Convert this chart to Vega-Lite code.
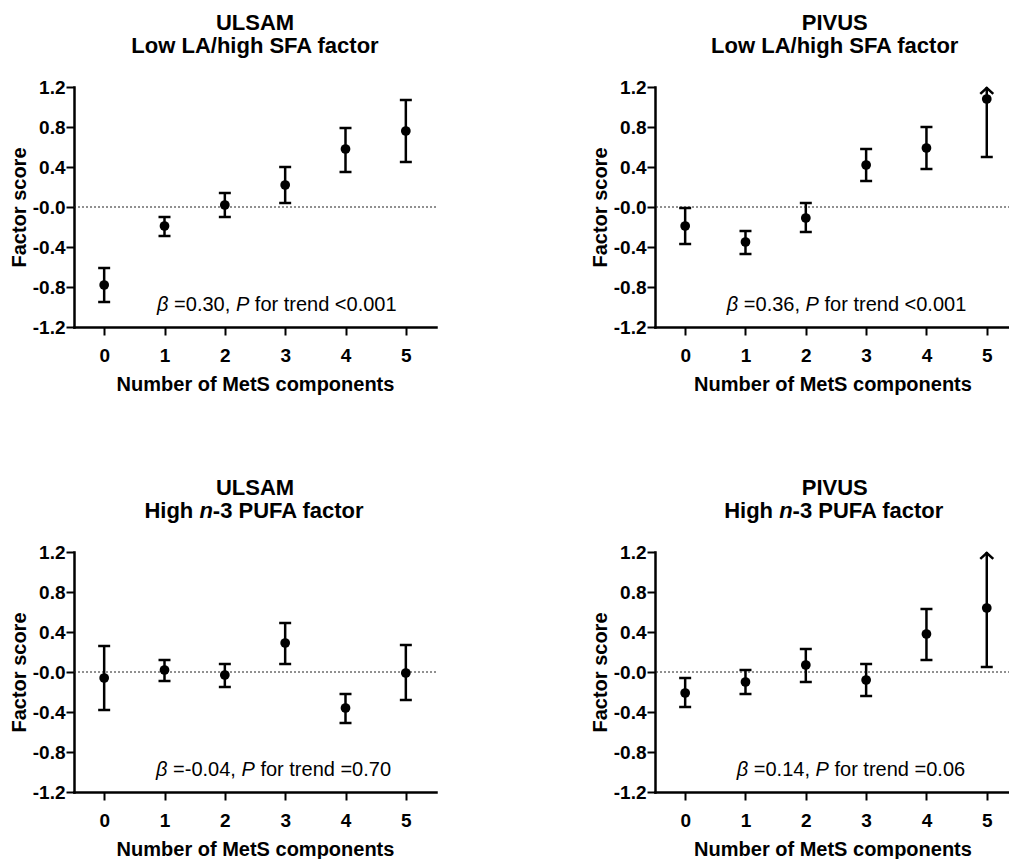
{
  "$schema": "https://vega.github.io/schema/vega-lite/v6.json",
  "background": "white",
  "padding": {"left": 9, "top": 12, "right": 0, "bottom": 0},
  "autosize": {"type": "pad"},
  "bounds": "flush",
  "columns": 2,
  "spacing": {"row": 225, "column": 219},
  "datasets": {
    "ulsam_la": [
      {"n": 0, "mean": -0.78, "lo": -0.95, "hi": -0.61},
      {"n": 1, "mean": -0.19, "lo": -0.29, "hi": -0.10},
      {"n": 2, "mean": 0.02, "lo": -0.10, "hi": 0.14},
      {"n": 3, "mean": 0.22, "lo": 0.04, "hi": 0.40},
      {"n": 4, "mean": 0.58, "lo": 0.35, "hi": 0.79},
      {"n": 5, "mean": 0.76, "lo": 0.45, "hi": 1.07}
    ],
    "pivus_la": [
      {"n": 0, "mean": -0.19, "lo": -0.37, "hi": -0.01},
      {"n": 1, "mean": -0.35, "lo": -0.47, "hi": -0.24},
      {"n": 2, "mean": -0.11, "lo": -0.25, "hi": 0.04},
      {"n": 3, "mean": 0.42, "lo": 0.26, "hi": 0.58},
      {"n": 4, "mean": 0.59, "lo": 0.38, "hi": 0.80},
      {"n": 5, "mean": 1.08, "lo": 0.50, "hi": 1.66}
    ],
    "ulsam_n3": [
      {"n": 0, "mean": -0.06, "lo": -0.38, "hi": 0.26},
      {"n": 1, "mean": 0.02, "lo": -0.09, "hi": 0.12},
      {"n": 2, "mean": -0.03, "lo": -0.15, "hi": 0.08},
      {"n": 3, "mean": 0.29, "lo": 0.08, "hi": 0.49},
      {"n": 4, "mean": -0.36, "lo": -0.51, "hi": -0.22},
      {"n": 5, "mean": -0.01, "lo": -0.28, "hi": 0.27}
    ],
    "pivus_n3": [
      {"n": 0, "mean": -0.21, "lo": -0.35, "hi": -0.06},
      {"n": 1, "mean": -0.10, "lo": -0.22, "hi": 0.02},
      {"n": 2, "mean": 0.07, "lo": -0.10, "hi": 0.23},
      {"n": 3, "mean": -0.08, "lo": -0.24, "hi": 0.08},
      {"n": 4, "mean": 0.38, "lo": 0.12, "hi": 0.63},
      {"n": 5, "mean": 0.64, "lo": 0.05, "hi": 1.23}
    ]
  },
  "concat": [
    {
      "width": 362, "height": 240,
      "data": {"name": "ulsam_la"},
      "layer": [
        {"data": {"values": [{}]}, "mark": {"type": "rule", "color": "#222", "strokeWidth": 1, "strokeDash": [2, 2]}, "encoding": {"y": {"datum": 0, "type": "quantitative"}}},
        {"mark": {"type": "rule", "color": "#000", "strokeWidth": 2.5, "clip": true}, "encoding": {"x": {"field": "n", "type": "quantitative", "title": "Number of MetS components"}, "y": {"field": "lo", "type": "quantitative", "title": "Factor score"}, "y2": {"field": "hi"}}},
        {"mark": {"type": "tick", "orient": "horizontal", "color": "#000", "size": 12, "thickness": 2.5, "opacity": 1}, "encoding": {"x": {"field": "n", "type": "quantitative", "title": "Number of MetS components"}, "y": {"field": "lo", "type": "quantitative", "title": "Factor score"}}},
        {"transform": [{"filter": "datum.hi <= 1.2"}], "mark": {"type": "tick", "orient": "horizontal", "color": "#000", "size": 12, "thickness": 2.5, "opacity": 1}, "encoding": {"x": {"field": "n", "type": "quantitative", "title": "Number of MetS components"}, "y": {"field": "hi", "type": "quantitative", "title": "Factor score"}}},
        {"mark": {"type": "point", "filled": true, "color": "#000", "size": 95, "opacity": 1}, "encoding": {
          "x": {"field": "n", "type": "quantitative", "title": "Number of MetS components", "scale": {"domain": [-0.5, 5.5], "nice": false, "zero": false}, "axis": {"values": [0, 1, 2, 3, 4, 5], "tickCount": 12, "format": "d", "labelOverlap": false}},
          "y": {"field": "mean", "type": "quantitative", "title": "Factor score", "scale": {"domain": [-1.2, 1.2], "nice": false, "zero": false}, "axis": {"values": [-1.2, -0.8, -0.4, 0, 0.4, 0.8, 1.2], "tickCount": 12, "labelOverlap": false, "labelExpr": "datum.value > 0 ? format(datum.value, '.1f') : '-' + format(abs(datum.value), '.1f')"}}}},
        {"data": {"values": [{}]}, "mark": {"type": "text", "text": "ULSAM", "font": "Liberation Sans", "fontSize": 22, "fontWeight": "bold", "align": "center", "baseline": "alphabetic", "dy": -57, "color": "#000"}, "encoding": {"x": {"datum": 2.5}, "y": {"datum": 1.2}}},
        {"data": {"values": [{}]}, "mark": {"type": "text", "text": "Low LA/high SFA factor", "font": "Liberation Sans", "fontSize": 22, "fontWeight": "bold", "align": "center", "baseline": "alphabetic", "dy": -34, "color": "#000"}, "encoding": {"x": {"datum": 2.5}, "y": {"datum": 1.2}}},
        {"data": {"values": [{}]}, "mark": {"type": "text", "text": "β", "font": "Liberation Sans", "fontSize": 20, "fontStyle": "italic", "align": "left", "baseline": "alphabetic", "dx": 0, "color": "#000"}, "encoding": {"x": {"datum": 0.876}, "y": {"datum": -1.04}}},
        {"data": {"values": [{}]}, "mark": {"type": "text", "text": "=0.30,", "font": "Liberation Sans", "fontSize": 20, "align": "left", "baseline": "alphabetic", "dx": 17.1, "color": "#000"}, "encoding": {"x": {"datum": 0.876}, "y": {"datum": -1.04}}},
        {"data": {"values": [{}]}, "mark": {"type": "text", "text": "P", "font": "Liberation Sans", "fontSize": 20, "fontStyle": "italic", "align": "left", "baseline": "alphabetic", "dx": 78.9, "color": "#000"}, "encoding": {"x": {"datum": 0.876}, "y": {"datum": -1.04}}},
        {"data": {"values": [{}]}, "mark": {"type": "text", "text": "for trend <0.001", "font": "Liberation Sans", "fontSize": 20, "align": "left", "baseline": "alphabetic", "dx": 97.8, "color": "#000"}, "encoding": {"x": {"datum": 0.876}, "y": {"datum": -1.04}}}
      ]
    },
    {
      "width": 355, "height": 240,
      "data": {"name": "pivus_la"},
      "layer": [
        {"data": {"values": [{}]}, "mark": {"type": "rule", "color": "#222", "strokeWidth": 1, "strokeDash": [2, 2]}, "encoding": {"y": {"datum": 0, "type": "quantitative"}}},
        {"mark": {"type": "rule", "color": "#000", "strokeWidth": 2.5, "clip": true}, "encoding": {"x": {"field": "n", "type": "quantitative", "title": "Number of MetS components"}, "y": {"field": "lo", "type": "quantitative", "title": "Factor score"}, "y2": {"field": "hi"}}},
        {"mark": {"type": "tick", "orient": "horizontal", "color": "#000", "size": 12, "thickness": 2.5, "opacity": 1}, "encoding": {"x": {"field": "n", "type": "quantitative", "title": "Number of MetS components"}, "y": {"field": "lo", "type": "quantitative", "title": "Factor score"}}},
        {"transform": [{"filter": "datum.hi <= 1.2"}], "mark": {"type": "tick", "orient": "horizontal", "color": "#000", "size": 12, "thickness": 2.5, "opacity": 1}, "encoding": {"x": {"field": "n", "type": "quantitative", "title": "Number of MetS components"}, "y": {"field": "hi", "type": "quantitative", "title": "Factor score"}}},
        {"transform": [{"filter": "datum.hi > 1.2"}], "mark": {"type": "point", "shape": "M-1,0.9L0,0L1,0.9", "filled": false, "stroke": "#000", "strokeWidth": 2.5, "size": 169, "opacity": 1, "strokeJoin": "miter"}, "encoding": {"x": {"field": "n", "type": "quantitative", "title": "Number of MetS components"}, "y": {"datum": 1.19}}},
        {"mark": {"type": "point", "filled": true, "color": "#000", "size": 95, "opacity": 1}, "encoding": {
          "x": {"field": "n", "type": "quantitative", "title": "Number of MetS components", "scale": {"domain": [-0.5, 5.385], "nice": false, "zero": false}, "axis": {"values": [0, 1, 2, 3, 4, 5], "tickCount": 12, "format": "d", "labelOverlap": false}},
          "y": {"field": "mean", "type": "quantitative", "title": "Factor score", "scale": {"domain": [-1.2, 1.2], "nice": false, "zero": false}, "axis": {"values": [-1.2, -0.8, -0.4, 0, 0.4, 0.8, 1.2], "tickCount": 12, "labelOverlap": false, "labelExpr": "datum.value > 0 ? format(datum.value, '.1f') : '-' + format(abs(datum.value), '.1f')"}}}},
        {"data": {"values": [{}]}, "mark": {"type": "text", "text": "PIVUS", "font": "Liberation Sans", "fontSize": 22, "fontWeight": "bold", "align": "center", "baseline": "alphabetic", "dy": -57, "color": "#000"}, "encoding": {"x": {"datum": 2.48}, "y": {"datum": 1.2}}},
        {"data": {"values": [{}]}, "mark": {"type": "text", "text": "Low LA/high SFA factor", "font": "Liberation Sans", "fontSize": 22, "fontWeight": "bold", "align": "center", "baseline": "alphabetic", "dy": -34, "color": "#000"}, "encoding": {"x": {"datum": 2.48}, "y": {"datum": 1.2}}},
        {"data": {"values": [{}]}, "mark": {"type": "text", "text": "β", "font": "Liberation Sans", "fontSize": 20, "fontStyle": "italic", "align": "left", "baseline": "alphabetic", "dx": 0, "color": "#000"}, "encoding": {"x": {"datum": 0.689}, "y": {"datum": -1.04}}},
        {"data": {"values": [{}]}, "mark": {"type": "text", "text": "=0.36,", "font": "Liberation Sans", "fontSize": 20, "align": "left", "baseline": "alphabetic", "dx": 17.1, "color": "#000"}, "encoding": {"x": {"datum": 0.689}, "y": {"datum": -1.04}}},
        {"data": {"values": [{}]}, "mark": {"type": "text", "text": "P", "font": "Liberation Sans", "fontSize": 20, "fontStyle": "italic", "align": "left", "baseline": "alphabetic", "dx": 78.9, "color": "#000"}, "encoding": {"x": {"datum": 0.689}, "y": {"datum": -1.04}}},
        {"data": {"values": [{}]}, "mark": {"type": "text", "text": "for trend <0.001", "font": "Liberation Sans", "fontSize": 20, "align": "left", "baseline": "alphabetic", "dx": 97.8, "color": "#000"}, "encoding": {"x": {"datum": 0.689}, "y": {"datum": -1.04}}}
      ]
    },
    {
      "width": 362, "height": 240,
      "data": {"name": "ulsam_n3"},
      "layer": [
        {"data": {"values": [{}]}, "mark": {"type": "rule", "color": "#222", "strokeWidth": 1, "strokeDash": [2, 2]}, "encoding": {"y": {"datum": 0, "type": "quantitative"}}},
        {"mark": {"type": "rule", "color": "#000", "strokeWidth": 2.5, "clip": true}, "encoding": {"x": {"field": "n", "type": "quantitative", "title": "Number of MetS components"}, "y": {"field": "lo", "type": "quantitative", "title": "Factor score"}, "y2": {"field": "hi"}}},
        {"mark": {"type": "tick", "orient": "horizontal", "color": "#000", "size": 12, "thickness": 2.5, "opacity": 1}, "encoding": {"x": {"field": "n", "type": "quantitative", "title": "Number of MetS components"}, "y": {"field": "lo", "type": "quantitative", "title": "Factor score"}}},
        {"transform": [{"filter": "datum.hi <= 1.2"}], "mark": {"type": "tick", "orient": "horizontal", "color": "#000", "size": 12, "thickness": 2.5, "opacity": 1}, "encoding": {"x": {"field": "n", "type": "quantitative", "title": "Number of MetS components"}, "y": {"field": "hi", "type": "quantitative", "title": "Factor score"}}},
        {"mark": {"type": "point", "filled": true, "color": "#000", "size": 95, "opacity": 1}, "encoding": {
          "x": {"field": "n", "type": "quantitative", "title": "Number of MetS components", "scale": {"domain": [-0.5, 5.5], "nice": false, "zero": false}, "axis": {"values": [0, 1, 2, 3, 4, 5], "tickCount": 12, "format": "d", "labelOverlap": false}},
          "y": {"field": "mean", "type": "quantitative", "title": "Factor score", "scale": {"domain": [-1.2, 1.2], "nice": false, "zero": false}, "axis": {"values": [-1.2, -0.8, -0.4, 0, 0.4, 0.8, 1.2], "tickCount": 12, "labelOverlap": false, "labelExpr": "datum.value > 0 ? format(datum.value, '.1f') : '-' + format(abs(datum.value), '.1f')"}}}},
        {"data": {"values": [{}]}, "mark": {"type": "text", "text": "ULSAM", "font": "Liberation Sans", "fontSize": 22, "fontWeight": "bold", "align": "center", "baseline": "alphabetic", "dy": -57, "color": "#000"}, "encoding": {"x": {"datum": 2.5}, "y": {"datum": 1.2}}},
        {"data": {"values": [{}]}, "mark": {"type": "text", "text": "High", "font": "Liberation Sans", "fontSize": 22, "fontWeight": "bold", "align": "right", "baseline": "alphabetic", "dx": -61.7, "dy": -34, "color": "#000"}, "encoding": {"x": {"datum": 2.5}, "y": {"datum": 1.2}}},
        {"data": {"values": [{}]}, "mark": {"type": "text", "text": "n", "font": "Liberation Sans", "fontSize": 22, "fontWeight": "bold", "fontStyle": "italic", "align": "center", "baseline": "alphabetic", "dx": -48.9, "dy": -34, "color": "#000"}, "encoding": {"x": {"datum": 2.5}, "y": {"datum": 1.2}}},
        {"data": {"values": [{}]}, "mark": {"type": "text", "text": "-3 PUFA factor", "font": "Liberation Sans", "fontSize": 22, "fontWeight": "bold", "align": "left", "baseline": "alphabetic", "dx": -42.2, "dy": -34, "color": "#000"}, "encoding": {"x": {"datum": 2.5}, "y": {"datum": 1.2}}},
        {"data": {"values": [{}]}, "mark": {"type": "text", "text": "β", "font": "Liberation Sans", "fontSize": 20, "fontStyle": "italic", "align": "left", "baseline": "alphabetic", "dx": 0, "color": "#000"}, "encoding": {"x": {"datum": 0.859}, "y": {"datum": -1.04}}},
        {"data": {"values": [{}]}, "mark": {"type": "text", "text": "=-0.04,", "font": "Liberation Sans", "fontSize": 20, "align": "left", "baseline": "alphabetic", "dx": 17.1, "color": "#000"}, "encoding": {"x": {"datum": 0.859}, "y": {"datum": -1.04}}},
        {"data": {"values": [{}]}, "mark": {"type": "text", "text": "P", "font": "Liberation Sans", "fontSize": 20, "fontStyle": "italic", "align": "left", "baseline": "alphabetic", "dx": 85.5, "color": "#000"}, "encoding": {"x": {"datum": 0.859}, "y": {"datum": -1.04}}},
        {"data": {"values": [{}]}, "mark": {"type": "text", "text": "for trend =0.70", "font": "Liberation Sans", "fontSize": 20, "align": "left", "baseline": "alphabetic", "dx": 104.4, "color": "#000"}, "encoding": {"x": {"datum": 0.859}, "y": {"datum": -1.04}}}
      ]
    },
    {
      "width": 355, "height": 240,
      "data": {"name": "pivus_n3"},
      "layer": [
        {"data": {"values": [{}]}, "mark": {"type": "rule", "color": "#222", "strokeWidth": 1, "strokeDash": [2, 2]}, "encoding": {"y": {"datum": 0, "type": "quantitative"}}},
        {"mark": {"type": "rule", "color": "#000", "strokeWidth": 2.5, "clip": true}, "encoding": {"x": {"field": "n", "type": "quantitative", "title": "Number of MetS components"}, "y": {"field": "lo", "type": "quantitative", "title": "Factor score"}, "y2": {"field": "hi"}}},
        {"mark": {"type": "tick", "orient": "horizontal", "color": "#000", "size": 12, "thickness": 2.5, "opacity": 1}, "encoding": {"x": {"field": "n", "type": "quantitative", "title": "Number of MetS components"}, "y": {"field": "lo", "type": "quantitative", "title": "Factor score"}}},
        {"transform": [{"filter": "datum.hi <= 1.2"}], "mark": {"type": "tick", "orient": "horizontal", "color": "#000", "size": 12, "thickness": 2.5, "opacity": 1}, "encoding": {"x": {"field": "n", "type": "quantitative", "title": "Number of MetS components"}, "y": {"field": "hi", "type": "quantitative", "title": "Factor score"}}},
        {"transform": [{"filter": "datum.hi > 1.2"}], "mark": {"type": "point", "shape": "M-1,0.9L0,0L1,0.9", "filled": false, "stroke": "#000", "strokeWidth": 2.5, "size": 169, "opacity": 1, "strokeJoin": "miter"}, "encoding": {"x": {"field": "n", "type": "quantitative", "title": "Number of MetS components"}, "y": {"datum": 1.19}}},
        {"mark": {"type": "point", "filled": true, "color": "#000", "size": 95, "opacity": 1}, "encoding": {
          "x": {"field": "n", "type": "quantitative", "title": "Number of MetS components", "scale": {"domain": [-0.5, 5.385], "nice": false, "zero": false}, "axis": {"values": [0, 1, 2, 3, 4, 5], "tickCount": 12, "format": "d", "labelOverlap": false}},
          "y": {"field": "mean", "type": "quantitative", "title": "Factor score", "scale": {"domain": [-1.2, 1.2], "nice": false, "zero": false}, "axis": {"values": [-1.2, -0.8, -0.4, 0, 0.4, 0.8, 1.2], "tickCount": 12, "labelOverlap": false, "labelExpr": "datum.value > 0 ? format(datum.value, '.1f') : '-' + format(abs(datum.value), '.1f')"}}}},
        {"data": {"values": [{}]}, "mark": {"type": "text", "text": "PIVUS", "font": "Liberation Sans", "fontSize": 22, "fontWeight": "bold", "align": "center", "baseline": "alphabetic", "dy": -57, "color": "#000"}, "encoding": {"x": {"datum": 2.48}, "y": {"datum": 1.2}}},
        {"data": {"values": [{}]}, "mark": {"type": "text", "text": "High", "font": "Liberation Sans", "fontSize": 22, "fontWeight": "bold", "align": "right", "baseline": "alphabetic", "dx": -61.7, "dy": -34, "color": "#000"}, "encoding": {"x": {"datum": 2.48}, "y": {"datum": 1.2}}},
        {"data": {"values": [{}]}, "mark": {"type": "text", "text": "n", "font": "Liberation Sans", "fontSize": 22, "fontWeight": "bold", "fontStyle": "italic", "align": "center", "baseline": "alphabetic", "dx": -48.9, "dy": -34, "color": "#000"}, "encoding": {"x": {"datum": 2.48}, "y": {"datum": 1.2}}},
        {"data": {"values": [{}]}, "mark": {"type": "text", "text": "-3 PUFA factor", "font": "Liberation Sans", "fontSize": 22, "fontWeight": "bold", "align": "left", "baseline": "alphabetic", "dx": -42.2, "dy": -34, "color": "#000"}, "encoding": {"x": {"datum": 2.48}, "y": {"datum": 1.2}}},
        {"data": {"values": [{}]}, "mark": {"type": "text", "text": "β", "font": "Liberation Sans", "fontSize": 20, "fontStyle": "italic", "align": "left", "baseline": "alphabetic", "dx": 0, "color": "#000"}, "encoding": {"x": {"datum": 0.854}, "y": {"datum": -1.04}}},
        {"data": {"values": [{}]}, "mark": {"type": "text", "text": "=0.14,", "font": "Liberation Sans", "fontSize": 20, "align": "left", "baseline": "alphabetic", "dx": 17.1, "color": "#000"}, "encoding": {"x": {"datum": 0.854}, "y": {"datum": -1.04}}},
        {"data": {"values": [{}]}, "mark": {"type": "text", "text": "P", "font": "Liberation Sans", "fontSize": 20, "fontStyle": "italic", "align": "left", "baseline": "alphabetic", "dx": 78.9, "color": "#000"}, "encoding": {"x": {"datum": 0.854}, "y": {"datum": -1.04}}},
        {"data": {"values": [{}]}, "mark": {"type": "text", "text": "for trend =0.06", "font": "Liberation Sans", "fontSize": 20, "align": "left", "baseline": "alphabetic", "dx": 97.8, "color": "#000"}, "encoding": {"x": {"datum": 0.854}, "y": {"datum": -1.04}}}
      ]
    }
  ],
  "config": {
    "view": {"stroke": null},
    "font": "Liberation Sans",
    "axis": {
      "grid": false,
      "labelOverlap": false,
      "labelBound": false,
      "labelFlush": false,
      "domainColor": "#000", "domainWidth": 2.5, "domainCap": "square",
      "tickColor": "#000", "tickWidth": 2, "tickSize": 8,
      "labelFont": "Liberation Sans", "labelFontSize": 19, "labelFontWeight": "bold", "labelColor": "#000",
      "titleFont": "Liberation Sans", "titleFontSize": 20, "titleFontWeight": "bold", "titleColor": "#000"
    },
    "axisX": {"labelPadding": 11, "titlePadding": 9},
    "axisY": {"labelPadding": 1, "titlePadding": 3}
  }
}
